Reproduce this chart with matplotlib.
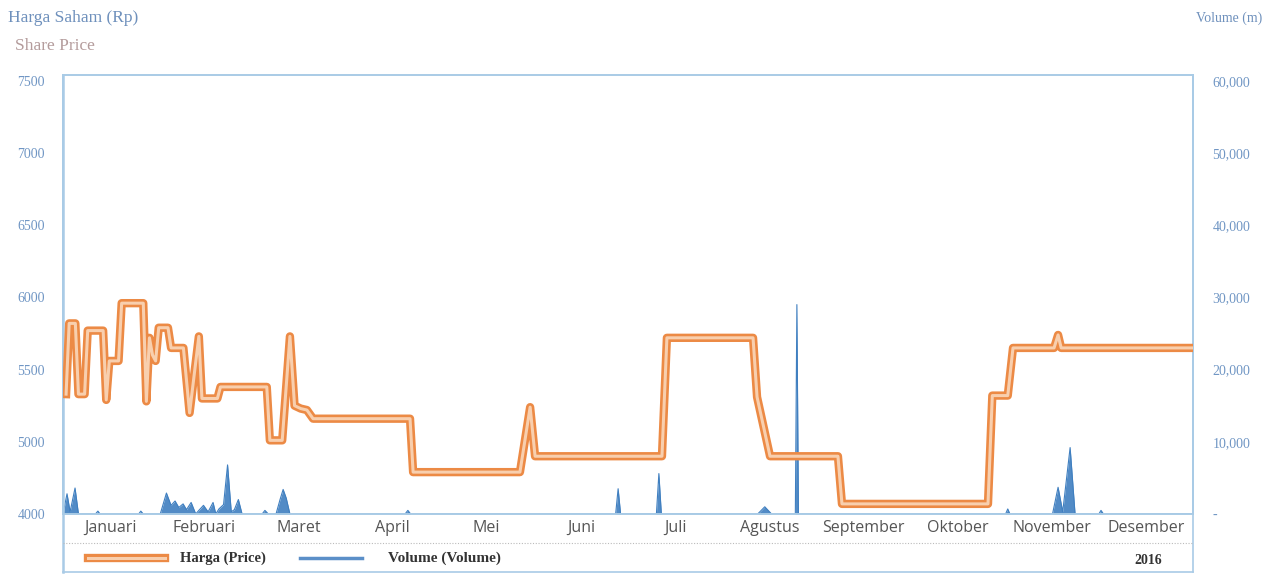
import matplotlib.pyplot as plt
import matplotlib.patheffects as pe
from matplotlib.lines import Line2D

# x axis: day of year 2016 (0..366)
months = ["Januari", "Februari", "Maret", "April", "Mei", "Juni", "Juli",
          "Agustus", "September", "Oktober", "November", "Desember"]

price_day = [1, 2, 4, 5, 7, 8, 13, 14, 15, 18, 19, 26, 27, 28, 29, 30, 31, 34,
             35, 39, 41, 44, 45, 50, 51, 66, 67, 71, 73.5, 75, 77, 79, 81, 112.4,
             113.4, 148, 151.3, 152.9, 194, 195.6, 223.5, 224.8, 229, 251, 252.3,
             299.6, 301, 306, 307.7, 321, 322.3, 323.3, 366]
price = [5330, 5820, 5820, 5330, 5330, 5770, 5770, 5290, 5560, 5560, 5960, 5960,
         5280, 5720, 5600, 5560, 5790, 5790, 5650, 5650, 5200, 5730, 5300, 5300,
         5380, 5380, 5010, 5010, 5730, 5250, 5230, 5220, 5160, 5160, 4790, 4790,
         5240, 4900, 4900, 5720, 5720, 5310, 4900, 4900, 4570, 4570, 5320, 5320,
         5650, 5650, 5740, 5650, 5650]

vol_day = [0, 1.3, 2.3, 3.9, 5, 10.5, 11.3, 12, 24.5, 25.2, 26,
           31.5, 33.5, 35, 36.3, 37.5, 38.9, 40, 41.5, 43, 44, 45.5, 47, 48.6,
           49.5, 50.5, 52, 53.3, 54.5, 55.5, 56.8, 58,
           64.5, 65.4, 66.5, 69, 70.3, 71.3, 72.3, 73.5,
           110.8, 111.7, 112.6, 179, 179.8, 180.6, 192.2, 193, 193.8,
           225, 227.3, 229.5, 237.2, 237.7, 238.2, 305.3, 306, 306.7,
           320.5, 322.3, 323.8, 326.2, 327.8, 335.5, 336.2, 337, 366]
vol = [0, 2800, 300, 3600, 0, 0, 400, 0, 0, 400, 0,
       0, 2900, 1200, 1800, 900, 1400, 600, 1600, 0, 500, 1200, 300, 1600,
       0, 700, 1300, 6800, 300, 600, 2000, 0,
       0, 500, 0, 0, 2000, 3400, 2200, 0,
       0, 500, 0, 0, 3500, 0, 0, 5600, 0,
       0, 1000, 0, 0, 29000, 0, 0, 700, 0,
       0, 3700, 300, 9200, 0, 0, 500, 0, 0]

left_ticks = [7500, 7000, 6500, 6000, 5500, 5000, 4500]
left_labels = ["7500", "7000", "6500", "6000", "5500", "5000", "4000"]
right_ticks = [60000, 50000, 40000, 30000, 20000, 10000, 0]
right_labels = ["60,000", "50,000", "40,000", "30,000", "20,000", "10,000", "-"]

W, H = 1266, 575
fig = plt.figure(figsize=(W / 100, H / 100), dpi=100)
frame_c = "#A9CBE6"
tick_c = "#7096C4"
orange = "#EC8A45"
inner = "#F8CFAE"
blue = "#3F7FC0"
serif = "Liberation Serif"


def fx(px):
    return px / W


def fy(py):
    return 1 - py / H


band = [pe.Stroke(linewidth=6, foreground=orange), pe.Normal()]

ax = fig.add_axes([fx(63), fy(514), fx(1193) - fx(63), fy(75) - fy(514)])
ax2 = ax.twinx()

ax.plot(price_day, price, color=inner, lw=2.2, path_effects=band, zorder=3)
ax.set_xlim(0, 366)
ax.set_ylim(4500, 7540)
ax.set_yticks(left_ticks)
ax.set_yticklabels(left_labels, family=serif, fontsize=10, color=tick_c)
ax.tick_params(axis="y", length=0, pad=13)
ax.set_xticks([])

ax2.fill_between(vol_day, vol, color=blue, lw=0, alpha=0.9)
ax2.plot(vol_day, vol, color=blue, lw=0.8)
ax2.set_ylim(0, 60800)
ax2.set_yticks(right_ticks)
ax2.set_yticklabels(right_labels, family=serif, fontsize=10, color=tick_c)
ax2.tick_params(axis="y", length=0, pad=14)

for a in (ax, ax2):
    for s in a.spines.values():
        s.set_color(frame_c)
        s.set_linewidth(1.2)
ax.set_zorder(2)
ax.patch.set_visible(False)
ax2.set_zorder(1)

# outer frame around month labels and legend row
fig.add_artist(Line2D([fx(63), fx(63)], [fy(75), fy(572)], color=frame_c, lw=1.8))
fig.add_artist(Line2D([fx(1193), fx(1193)], [fy(75), fy(572)], color=frame_c, lw=1.2))
fig.add_artist(Line2D([fx(63), fx(1193)], [fy(572), fy(572)], color=frame_c, lw=1.2))
fig.add_artist(Line2D([fx(63), fx(1193)], [fy(543), fy(543)], color="#BBBBBB",
                      lw=0.8, ls=(0, (1, 1.5))))

# month labels
for i, m in enumerate(months):
    xm = 63 + (1130 / 12) * (i + 0.5)
    fig.text(fx(xm), fy(528), m, ha="center", va="center", fontsize=11.5,
             family="Open Sans", color="#555555")

# legend row
fig.add_artist(Line2D([fx(88), fx(165)], [fy(558), fy(558)], color=inner, lw=2.2,
                      path_effects=band))
fig.text(fx(180), fy(558), "Harga (Price)", ha="left", va="center", fontsize=10.5,
         family=serif, fontweight="bold", color="#333333")
fig.add_artist(Line2D([fx(300), fx(362)], [fy(558), fy(558)], color="#5B8FC8", lw=2.5))
fig.text(fx(388), fy(558), "Volume (Volume)", ha="left", va="center", fontsize=11,
         family=serif, fontweight="bold", color="#333333")
fig.text(fx(1148), fy(561), "2016", ha="center", va="center", fontsize=10,
         family=serif, fontweight="bold", color="#333333")

# axis titles
fig.text(fx(8), fy(18), "Harga Saham (Rp)", ha="left", va="center", fontsize=12.5,
         family=serif, color="#6E90BC")
fig.text(fx(15), fy(46), "Share Price", ha="left", va="center", fontsize=12.5,
         family=serif, color="#B49C9C")
fig.text(fx(1262), fy(18), "Volume (m)", ha="right", va="center", fontsize=10,
         family=serif, color="#6E90BC")

fig.savefig("out.png", dpi=100, facecolor="white")
